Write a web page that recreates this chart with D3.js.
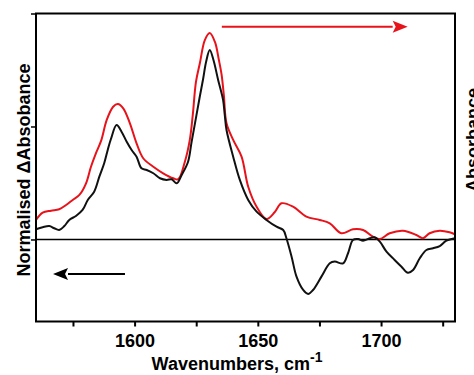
<!DOCTYPE html>
<html>
<head>
<meta charset="utf-8">
<script src="https://cdn.jsdelivr.net/npm/d3@7/dist/d3.min.js"></script>
<style>
  html, body { margin: 0; padding: 0; background: #fff; }
  svg { display: block; }
  text { font-family: "Liberation Sans", Arial, sans-serif; font-weight: bold; fill: #000; }
</style>
</head>
<body>
<svg id="chart" width="474" height="375"></svg>
<script>
// Difference spectrum (black) and absorbance spectrum (red), wavenumbers in cm^-1
const blackWn = [1560.0, 1562.7, 1565.4, 1567.4, 1569.4, 1571.5, 1573.5, 1576.2, 1578.9, 1581.0,
  1583.6, 1585.7, 1587.7, 1589.1, 1590.4, 1592.7, 1594.7, 1596.8, 1598.8, 1600.8,
  1602.8, 1604.9, 1607.6, 1610.3, 1613.0, 1615.0, 1617.1, 1619.1, 1621.7, 1623.1,
  1625.1, 1626.5, 1627.8, 1629.0, 1630.5, 1632.0, 1633.9, 1635.9, 1636.6, 1637.3,
  1640.0, 1642.7, 1646.1, 1649.5, 1653.5, 1657.6, 1660.3, 1661.6, 1663.7, 1665.7,
  1668.4, 1670.4, 1672.4, 1675.8, 1679.2, 1681.2, 1684.6, 1686.6, 1688.6, 1690.7,
  1692.7, 1695.4, 1697.4, 1699.5, 1702.2, 1705.5, 1708.3, 1710.9, 1713.0, 1715.7,
  1718.4, 1721.1, 1723.8, 1726.5, 1729.9];
const blackAbs = [0.090, 0.108, 0.119, 0.099, 0.084, 0.119, 0.173, 0.208, 0.261, 0.350,
  0.423, 0.556, 0.677, 0.792, 0.889, 1.013, 0.954, 0.865, 0.792, 0.733,
  0.630, 0.615, 0.586, 0.542, 0.527, 0.533, 0.497, 0.571, 0.688, 0.860,
  1.100, 1.270, 1.420, 1.570, 1.677, 1.588, 1.412, 1.235, 1.100, 0.969,
  0.733, 0.527, 0.350, 0.246, 0.173, 0.113, 0.084, 0.011, -0.152, -0.329,
  -0.447, -0.482, -0.447, -0.329, -0.211, -0.196, -0.211, -0.122, -0.004, 0.004,
  -0.011, 0.011, 0.019, -0.019, -0.108, -0.181, -0.241, -0.294, -0.270, -0.166,
  -0.093, -0.078, -0.058, -0.011, 0.011];

const redWn = [1560.0, 1562.7, 1566.1, 1569.4, 1572.2, 1574.9, 1577.6, 1580.3, 1582.3, 1584.3,
  1586.4, 1588.7, 1591.3, 1593.2, 1595.4, 1598.1, 1600.8, 1603.5, 1607.6, 1611.6,
  1615.7, 1617.7, 1620.4, 1622.4, 1623.6, 1624.9, 1626.5, 1628.5, 1630.5, 1632.6,
  1634.2, 1635.3, 1636.2, 1637.3, 1640.0, 1643.4, 1646.1, 1649.5, 1653.5, 1656.9,
  1659.6, 1664.3, 1669.7, 1675.1, 1679.2, 1683.9, 1688.6, 1692.7, 1696.7, 1699.5,
  1703.5, 1708.9, 1714.3, 1717.0, 1719.7, 1723.8, 1727.8, 1729.9];
const redAbs = [0.173, 0.237, 0.255, 0.267, 0.305, 0.350, 0.394, 0.497, 0.644, 0.763,
  0.872, 1.058, 1.175, 1.199, 1.161, 1.028, 0.851, 0.719, 0.644, 0.586,
  0.542, 0.533, 0.688, 0.881, 1.100, 1.394, 1.562, 1.765, 1.827, 1.748,
  1.588, 1.459, 1.280, 1.028, 0.881, 0.733, 0.467, 0.290, 0.181, 0.243,
  0.320, 0.290, 0.202, 0.173, 0.143, 0.055, 0.090, 0.084, 0.025, 0.004,
  0.055, 0.078, 0.040, 0.011, 0.055, 0.078, 0.064, 0.046];

const xTicks = [1575, 1600, 1625, 1650, 1675, 1700, 1725];
const xTickLabels = ["", "1600", "", "1650", "", "1700", ""];
const yTicks = [0, 1, 2];

// Direction arrows: [from wavenumber, to wavenumber, level]
const redArrow = [1635.4, 1710.8, 1.883];
const blackArrow = [1596.1, 1566.9, -0.305];

const svg = d3.select("#chart");
const plotL = 36, plotR = 455, plotT = 13.5, plotB = 321.5;

const x = d3.scaleLinear().domain([1560, 1730]).range([plotL, plotR]);
const y = d3.scaleLinear().domain([-0.726, 2.0]).range([plotB, plotT]);

// x axis
const xAxis = svg.append("g")
  .attr("transform", `translate(0,${plotB})`)
  .call(d3.axisBottom(x).tickValues(xTicks)
    .tickFormat((d, i) => xTickLabels[i]).tickSize(5).tickPadding(8));
xAxis.select(".domain").remove();
xAxis.selectAll(".tick line").attr("stroke", "#000").attr("stroke-width", 2);
xAxis.selectAll(".tick text").style("font-size", "18px").attr("font-family", null);

// y axis (ticks only)
const yAxis = svg.append("g")
  .attr("transform", `translate(${plotL},0)`)
  .call(d3.axisLeft(y).tickValues(yTicks).tickFormat("").tickSize(5));
yAxis.select(".domain").remove();
yAxis.selectAll(".tick line").attr("stroke", "#000").attr("stroke-width", 1.5);

// zero line
svg.append("line")
  .attr("x1", plotL).attr("x2", plotR)
  .attr("y1", y(0)).attr("y2", y(0))
  .attr("stroke", "#000").attr("stroke-width", 1.5);

const line = d3.line()
  .x(d => x(d[0])).y(d => y(d[1]))
  .curve(d3.curveCatmullRom.alpha(0.5));

svg.append("path")
  .datum(redWn.map((w, i) => [w, redAbs[i]]))
  .attr("d", line).attr("fill", "none")
  .attr("stroke", "#e8121a").attr("stroke-width", 2).attr("stroke-linejoin", "round");

svg.append("path")
  .datum(blackWn.map((w, i) => [w, blackAbs[i]]))
  .attr("d", line).attr("fill", "none")
  .attr("stroke", "#111").attr("stroke-width", 2).attr("stroke-linejoin", "round");

// frame
svg.append("rect")
  .attr("x", plotL).attr("y", plotT)
  .attr("width", plotR - plotL).attr("height", plotB - plotT)
  .attr("fill", "none").attr("stroke", "#000").attr("stroke-width", 2);

// arrows
function arrow(spec, color) {
  const x0 = x(spec[0]), x1 = x(spec[1]), yy = y(spec[2]);
  const dir = Math.sign(x1 - x0);
  const headLen = 15, headHalf = 6;
  svg.append("line")
    .attr("x1", x0).attr("x2", x1 - dir * headLen)
    .attr("y1", yy).attr("y2", yy)
    .attr("stroke", color).attr("stroke-width", 2);
  svg.append("path")
    .attr("d", `M${x1},${yy} L${x1 - dir * headLen},${yy - headHalf} L${x1 - dir * headLen + dir * 3},${yy} L${x1 - dir * headLen},${yy + headHalf} Z`)
    .attr("fill", color);
}
arrow(redArrow, "#e8121a");
arrow(blackArrow, "#000");

// titles
const xTitle = svg.append("text")
  .attr("x", 237).attr("y", 370)
  .attr("text-anchor", "middle")
  .style("font-size", "18px");
xTitle.append("tspan").text("Wavenumbers, cm");
xTitle.append("tspan").attr("dy", -8).style("font-size", "14px").text("-1");

svg.append("text")
  .attr("transform", "translate(30,170) rotate(-90)")
  .attr("text-anchor", "middle")
  .style("font-size", "18px")
  .text("Normalised \u0394Absobance");

svg.append("text")
  .attr("transform", "translate(479,140) rotate(-90)")
  .attr("text-anchor", "middle")
  .style("font-size", "18px")
  .text("Absorbance");
</script>
</body>
</html>
